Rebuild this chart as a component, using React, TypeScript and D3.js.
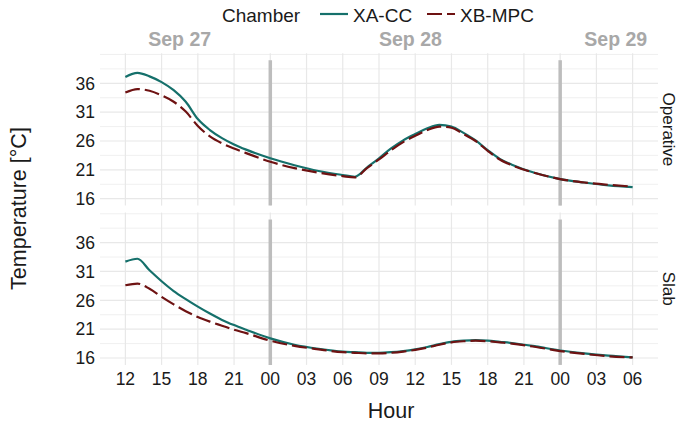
import React from "react";
import * as d3 from "d3";

const hours = [12, 13, 14, 15, 16, 17, 18, 19, 20, 21, 22, 24, 26, 28, 30, 31, 32, 33, 34, 35, 36, 37, 38, 39, 40, 41, 42, 43, 44, 46, 48, 50, 52, 54];

const operativeXACC = [37.1, 37.8, 37.2, 36.2, 34.8, 32.8, 29.8, 27.9, 26.5, 25.4, 24.5, 23.0, 21.8, 20.8, 20.1, 19.8, 21.4, 23.0, 24.7, 26.1, 27.2, 28.2, 28.8, 28.5, 27.4, 26.1, 24.4, 22.9, 21.9, 20.4, 19.4, 18.8, 18.3, 18.0];
const operativeXBMPC = [34.4, 35.0, 34.7, 33.9, 32.8, 31.1, 28.6, 26.8, 25.6, 24.7, 23.9, 22.4, 21.3, 20.5, 19.9, 19.7, 21.3, 22.8, 24.4, 25.8, 26.9, 27.9, 28.5, 28.3, 27.2, 26.0, 24.3, 22.8, 21.8, 20.4, 19.4, 18.8, 18.4, 18.1];
const slabXACC = [32.7, 33.2, 31.2, 29.3, 27.6, 26.2, 24.9, 23.7, 22.6, 21.7, 20.9, 19.4, 18.3, 17.6, 17.1, 17.0, 16.9, 16.9, 17.0, 17.2, 17.5, 17.9, 18.4, 18.8, 19.0, 19.1, 19.0, 18.8, 18.6, 18.0, 17.3, 16.8, 16.4, 16.1];
const slabXBMPC = [28.6, 28.9, 28.0, 26.6, 25.3, 24.1, 23.1, 22.3, 21.6, 20.9, 20.3, 19.0, 18.1, 17.5, 17.0, 16.9, 16.8, 16.8, 16.9, 17.1, 17.4, 17.8, 18.3, 18.7, 18.9, 19.0, 18.9, 18.7, 18.5, 17.9, 17.2, 16.7, 16.3, 16.1];

const chambers = ["XA-CC", "XB-MPC"];
const panels = ["Operative", "Slab"];
const yBreaks = [16, 21, 26, 31, 36];
const yMinorBreaks = [18.5, 23.5, 28.5, 33.5, 38.5, 41];
const xBreaks = [12, 15, 18, 21, 24, 27, 30, 33, 36, 39, 42, 45, 48, 51, 54];
const dayLines = [24, 48];
const dayLabels = ["Sep 27", "Sep 28", "Sep 29"];
const dayLabelHours = [16.5, 35.6, 52.6];

const colors: Record<string, string> = { "XA-CC": "#15706b", "XB-MPC": "#6e1212" };
const dashes: Record<string, string | undefined> = { "XA-CC": undefined, "XB-MPC": "15 5" };

const seriesByPanel: Record<string, Record<string, number[]>> = {
  Operative: { "XA-CC": operativeXACC, "XB-MPC": operativeXBMPC },
  Slab: { "XA-CC": slabXACC, "XB-MPC": slabXBMPC },
};

const W = 678, H = 431;
const left = 100, right = 658;
const panelTops = [53.3, 212.6];
const panelH = 152.3;
const yDomain = [14.8, 41.2];
const font = "'Liberation Sans', Arial, sans-serif";

export default function App() {
  const x = d3.scaleLinear().domain([9.9, 56.1]).range([left, right]);
  const pad = (h: number) => String(h % 24).padStart(2, "0");

  return (
    <svg width={W} height={H} style={{ position: "absolute", left: 0, top: 0, background: "#fff" }} fontFamily={font}>
      <text x={222} y={21.5} fontSize={19} fill="#1a1a1a">Chamber</text>
      {chambers.map((c, i) => {
        const kx = i === 0 ? 320 : 427;
        return (
          <g key={c}>
            <line x1={kx} x2={kx + 28} y1={14} y2={14} stroke={colors[c]} strokeWidth={2.2} strokeDasharray={dashes[c]} />
            <text x={kx + 33} y={21.5} fontSize={19} fill="#1a1a1a">{c}</text>
          </g>
        );
      })}

      {panels.map((p, pi) => {
        const top = panelTops[pi];
        const y = d3.scaleLinear().domain(yDomain).range([top + panelH, top]);
        const line = d3.line<number>().x((_, i) => x(hours[i])).y((d) => y(d)).curve(d3.curveMonotoneX);
        return (
          <g key={p}>
            {yMinorBreaks.map((b) => (
              <line key={"mn" + b} x1={left} x2={right} y1={y(b)} y2={y(b)} stroke="#ececec" strokeWidth={0.8} />
            ))}
            {yBreaks.map((b) => (
              <line key={"mj" + b} x1={left} x2={right} y1={y(b)} y2={y(b)} stroke="#e8e8e8" strokeWidth={1.2} />
            ))}
            {xBreaks.map((b) => (
              <line key={"v" + b} x1={x(b)} x2={x(b)} y1={top} y2={top + panelH} stroke="#e8e8e8" strokeWidth={1.2} />
            ))}
            {dayLines.map((d) => (
              <line key={"d" + d} x1={x(d)} x2={x(d)} y1={y(40)} y2={top + panelH} stroke="#bdbdbd" strokeWidth={3.5} />
            ))}
            {chambers.map((c) => (
              <path key={c} d={line(seriesByPanel[p][c]) || ""} fill="none" stroke={colors[c]} strokeWidth={2.2} strokeDasharray={dashes[c]} />
            ))}
            {yBreaks.map((b) => (
              <text key={"yl" + b} x={95} y={y(b)} dy="0.36em" textAnchor="end" fontSize={17.5} fill="#1a1a1a">{b}</text>
            ))}
            <text transform={`translate(669,${top + panelH / 2}) rotate(90)`} textAnchor="middle" dy="0.36em" fontSize={17} fill="#1a1a1a">{p}</text>
          </g>
        );
      })}

      {dayLabels.map((t, i) => (
        <text key={t} x={x(dayLabelHours[i])} y={46} textAnchor="middle" fontSize={19.5} fontWeight="bold" fill="#a8a8a8">{t}</text>
      ))}

      {xBreaks.map((b) => (
        <text key={"xl" + b} x={x(b)} y={384.5} textAnchor="middle" fontSize={17.5} fill="#1a1a1a">{pad(b)}</text>
      ))}

      <text x={391} y={418} textAnchor="middle" fontSize={21.5} fill="#1a1a1a">Hour</text>
      <text transform={`translate(18,208.5) rotate(-90)`} textAnchor="middle" dy="0.36em" fontSize={21.5} fill="#1a1a1a">Temperature [°C]</text>
    </svg>
  );
}
